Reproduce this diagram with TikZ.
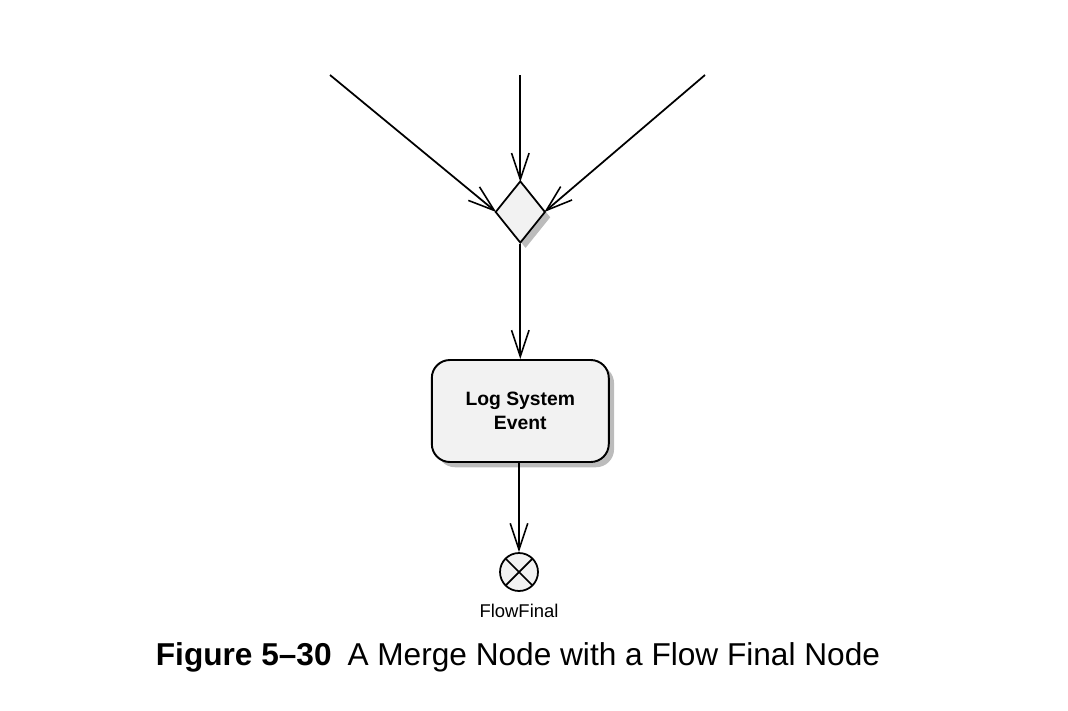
\documentclass[tikz,border=0pt]{standalone}
\usepackage{fontspec}
\setmainfont{Liberation Sans}
\usetikzlibrary{arrows.meta}
\usetikzlibrary{shapes.geometric}
\usetikzlibrary{shadows}
\definecolor{umlfill}{RGB}{242,242,242}
\definecolor{umlshadow}{RGB}{160,160,160}
\tikzstyle{flow}=[line width=1pt,-{Straight Barb[length=15pt,width=10pt,line width=0.9pt]}]
\tikzstyle{umlshade}=[drop shadow={shadow xshift=3pt,shadow yshift=-3pt,fill=umlshadow,opacity=0.7}]
\tikzstyle{merge}=[diamond,draw,line width=1pt,fill=umlfill,inner sep=0pt,minimum width=1cm,minimum height=1.24cm,umlshade]
\tikzstyle{action}=[rectangle,draw,line width=1.1pt,fill=umlfill,rounded corners=0.36cm,minimum width=3.54cm,minimum height=2.04cm,align=center,font=\fontsize{11}{13.6}\selectfont\bfseries,umlshade]
\tikzstyle{flowfinal}=[circle,draw,line width=1pt,fill=umlfill,inner sep=0pt,minimum size=0.76cm,
  path picture={\draw[line width=1pt] (path picture bounding box.south west) -- (path picture bounding box.north east)
    (path picture bounding box.north west) -- (path picture bounding box.south east);}]
\begin{document}
\begin{tikzpicture}[x=0.02cm,y=-0.02cm]
  \useasboundingbox (0,0) rectangle (1068,710);
  % incoming flows
  \coordinate (inL) at (330,75);
  \coordinate (inT) at (520.3,75);
  \coordinate (inR) at (705,75);
  \node[merge] (merge) at (520.3,212) {};
  \node[action] (log) at (520.3,411) {Log System\\Event};
  \node[flowfinal] (final) at (519,572) {};
  \node[font=\fontsize{10.5}{12}\selectfont] (finallabel) at (519,611) {FlowFinal};
  \draw[flow] (inL) -- ([xshift=1pt]merge.west);
  \draw[flow] (inT) -- ([yshift=-1pt]merge.north);
  \draw[flow] (inR) -- ([xshift=-1pt]merge.east);
  \draw[flow] (merge.south) -- (log.north);
  \draw[flow] (final.north |- log.south) -- (final.north);
  % caption
  \node[font=\fontsize{18}{21}\selectfont] (caption) at (518,657) {\textbf{Figure 5–30}\hspace{0.5em}A Merge Node with a Flow Final Node};
\end{tikzpicture}
\end{document}
